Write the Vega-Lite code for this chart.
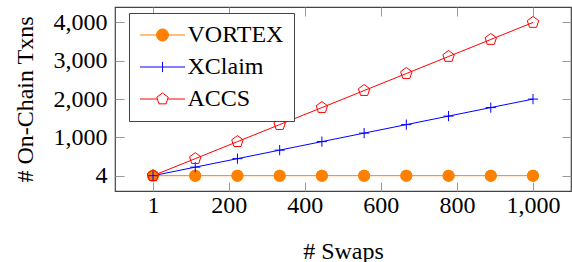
{
  "$schema": "https://vega.github.io/schema/vega-lite/v6.json",
  "width": 456,
  "height": 184,
  "autosize": {"type": "none"},
  "padding": {"left": 115, "top": 7, "right": 1, "bottom": 71},
  "background": "white",
  "config": {
    "font": "Liberation Serif",
    "view": {"stroke": "#444", "strokeWidth": 1.2},
    "axis": {
      "domain": false,
      "grid": false,
      "tickColor": "#999",
      "tickSize": -9,
      "tickWidth": 1
    },
    "legend": {
      "orient": "none",
      "legendX": 14,
      "legendY": 6,
      "title": null,
      "labelFont": "Liberation Serif",
      "labelFontSize": 24,
      "labelColor": "black",
      "symbolOpacity": 1,
      "symbolSize": 144,
      "symbolStrokeWidth": 1,
      "padding": 10,
      "strokeColor": "#444",
      "fillColor": "white",
      "rowPadding": 8,
      "symbolOffset": 11.5,
      "labelOffset": 13
    }
  },
  "data": {
    "values": [
      {"swaps": 1, "txns": 4, "series": "VORTEX"},
      {"swaps": 112, "txns": 4, "series": "VORTEX"},
      {"swaps": 223, "txns": 4, "series": "VORTEX"},
      {"swaps": 334, "txns": 4, "series": "VORTEX"},
      {"swaps": 445, "txns": 4, "series": "VORTEX"},
      {"swaps": 556, "txns": 4, "series": "VORTEX"},
      {"swaps": 667, "txns": 4, "series": "VORTEX"},
      {"swaps": 778, "txns": 4, "series": "VORTEX"},
      {"swaps": 889, "txns": 4, "series": "VORTEX"},
      {"swaps": 1000, "txns": 4, "series": "VORTEX"},
      {"swaps": 1, "txns": 4, "series": "XClaim"},
      {"swaps": 112, "txns": 226, "series": "XClaim"},
      {"swaps": 223, "txns": 448, "series": "XClaim"},
      {"swaps": 334, "txns": 670, "series": "XClaim"},
      {"swaps": 445, "txns": 892, "series": "XClaim"},
      {"swaps": 556, "txns": 1114, "series": "XClaim"},
      {"swaps": 667, "txns": 1336, "series": "XClaim"},
      {"swaps": 778, "txns": 1558, "series": "XClaim"},
      {"swaps": 889, "txns": 1780, "series": "XClaim"},
      {"swaps": 1000, "txns": 2002, "series": "XClaim"},
      {"swaps": 1, "txns": 4, "series": "ACCS"},
      {"swaps": 112, "txns": 448, "series": "ACCS"},
      {"swaps": 223, "txns": 892, "series": "ACCS"},
      {"swaps": 334, "txns": 1336, "series": "ACCS"},
      {"swaps": 445, "txns": 1780, "series": "ACCS"},
      {"swaps": 556, "txns": 2224, "series": "ACCS"},
      {"swaps": 667, "txns": 2668, "series": "ACCS"},
      {"swaps": 778, "txns": 3112, "series": "ACCS"},
      {"swaps": 889, "txns": 3556, "series": "ACCS"},
      {"swaps": 1000, "txns": 4000, "series": "ACCS"}
    ]
  },
  "layer": [
    {
      "transform": [{"filter": "datum.series == 'VORTEX'"}],
      "mark": {"type": "point", "shape": "circle", "filled": true, "size": 144, "opacity": 1, "fill": "#ff8000", "strokeWidth": 0},
      "encoding": {
        "x": {"field": "swaps", "type": "quantitative",
              "scale": {"domain": [-98.9, 1099.9], "nice": false, "zero": false},
              "axis": {"orient": "bottom", "title": "# Swaps", "values": [1, 200, 400, 600, 800, 1000], "format": ",d",
                       "labelFont": "Liberation Serif", "labelFontSize": 24, "labelColor": "black",
                       "titleFont": "Liberation Serif", "titleFontSize": 24, "titleFontWeight": "normal", "titleColor": "black",
                       "labelPadding": 11, "titlePadding": 22}},
        "y": {"field": "txns", "type": "quantitative",
              "scale": {"domain": [-395.6, 4403.6], "nice": false, "zero": false},
              "axis": {"orient": "left", "title": "# On-Chain Txns", "values": [4, 1000, 2000, 3000, 4000], "format": ",d",
                       "labelFont": "Liberation Serif", "labelFontSize": 24, "labelColor": "black",
                       "titleFont": "Liberation Serif", "titleFontSize": 24, "titleFontWeight": "normal", "titleColor": "black",
                       "labelPadding": 17, "titlePadding": 16}}
      }
    },
    {
      "mark": {"type": "line", "strokeWidth": 1},
      "encoding": {
        "x": {"field": "swaps", "type": "quantitative",
              "axis": {"orient": "top", "labels": false, "title": null, "values": [1, 200, 400, 600, 800, 1000]}},
        "y": {"field": "txns", "type": "quantitative",
              "axis": {"orient": "right", "labels": false, "title": null, "values": [4, 1000, 2000, 3000, 4000]}},
        "stroke": {"field": "series", "type": "nominal",
                   "scale": {"domain": ["VORTEX", "XClaim", "ACCS"], "range": ["#ff8000", "#0000ff", "#ff0000"]}},
        "detail": {"field": "series"}
      }
    },
    {
      "transform": [{"filter": "datum.series == 'VORTEX'"}],
      "mark": {"type": "point", "shape": "circle", "filled": true, "size": 144, "opacity": 1, "fill": "#ff8000", "strokeWidth": 0},
      "encoding": {
        "x": {"field": "swaps", "type": "quantitative", "axis": null},
        "y": {"field": "txns", "type": "quantitative", "axis": null}
      }
    },
    {
      "transform": [{"filter": "datum.series == 'XClaim'"}],
      "mark": {"type": "point", "shape": "M-0.85,0H0.85M0,-0.85V0.85", "filled": false, "size": 144, "opacity": 1, "strokeWidth": 1},
      "encoding": {
        "x": {"field": "swaps", "type": "quantitative", "axis": null},
        "y": {"field": "txns", "type": "quantitative", "axis": null},
        "stroke": {"field": "series", "type": "nominal"}
      }
    },
    {
      "transform": [{"filter": "datum.series == 'ACCS'"}],
      "mark": {"type": "point", "shape": "M0,-1L0.951,-0.309L0.588,0.809L-0.588,0.809L-0.951,-0.309Z", "filled": false, "size": 144, "opacity": 1, "strokeWidth": 1},
      "encoding": {
        "x": {"field": "swaps", "type": "quantitative", "axis": null},
        "y": {"field": "txns", "type": "quantitative", "axis": null},
        "stroke": {"field": "series", "type": "nominal"}
      }
    },
    {
      "mark": {"type": "point", "strokeWidth": 1, "size": 144, "opacity": 0},
      "encoding": {
        "x": {"field": "swaps", "type": "quantitative", "axis": null},
        "y": {"field": "txns", "type": "quantitative", "axis": null},
        "stroke": {"field": "series", "type": "nominal"},
        "fill": {"field": "series", "type": "nominal",
                 "scale": {"domain": ["VORTEX", "XClaim", "ACCS"], "range": ["#ff8000", "transparent", "white"]}},
        "shape": {"field": "series", "type": "nominal",
                  "scale": {"domain": ["VORTEX", "XClaim", "ACCS"],
                            "range": ["M-3.75,0H3.75M1,0A1,1 0 1,0 -1,0A1,1 0 1,0 1,0Z",
                                      "M-3.75,0H3.75M0,-0.85V0.85",
                                      "M-3.75,0H-0.851M0.851,0H3.75M0,-1L0.951,-0.309L0.588,0.809L-0.588,0.809L-0.951,-0.309Z"]}}
      }
    }
  ],
  "resolve": {
    "axis": {"x": "independent", "y": "independent"}
  }
}
